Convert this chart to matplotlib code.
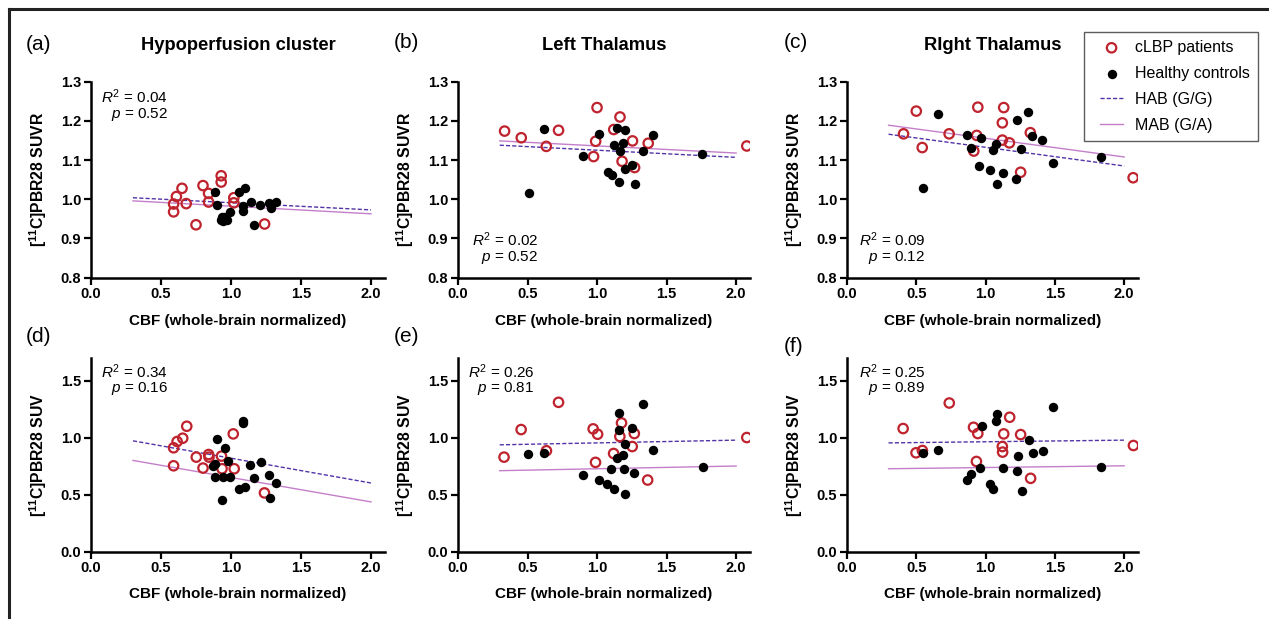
"""
CBF vs [11C]PBR28 uptake scatter panels (cLBP patients vs healthy controls)
with per-genotype regression lines.
"""
import matplotlib
matplotlib.use("Agg")
import matplotlib.pyplot as plt
from matplotlib.lines import Line2D
from matplotlib.collections import PathCollection
from matplotlib.legend_handler import HandlerLine2D, HandlerPathCollection
from matplotlib.ticker import FormatStrFormatter

plt.rcParams["font.family"] = ["Liberation Sans", "DejaVu Sans"]
plt.rcParams["mathtext.fontset"] = "custom"
plt.rcParams["mathtext.rm"] = "Liberation Sans"
plt.rcParams["mathtext.it"] = "Liberation Sans:italic"
plt.rcParams["mathtext.bf"] = "Liberation Sans:bold"

# ---------------------------------------------------------------------------
# Data
# ---------------------------------------------------------------------------

# (a) Hypoperfusion cluster, SUVR
a_pat_x = [0.59, 0.59, 0.61, 0.65, 0.68, 0.75, 0.80, 0.84, 0.84, 0.93, 0.93, 1.02, 1.02, 1.24]
a_pat_y = [0.988, 0.968, 1.007, 1.028, 0.989, 0.935, 1.035, 1.015, 0.993, 1.060, 1.044, 1.004, 0.991, 0.937]
a_hc_x = [0.886, 0.897, 0.933, 0.94, 0.95, 0.97, 0.993, 1.06, 1.10, 1.083, 1.083, 1.14, 1.207,
          1.165, 1.274, 1.283, 1.32, 0.93]
a_hc_y = [1.019, 0.985, 0.956, 0.945, 0.955, 0.947, 0.968, 1.019, 1.030, 0.983, 0.971, 0.994, 0.985,
          0.934, 0.990, 0.977, 0.994, 0.948]

# (b) Left Thalamus, SUVR
b_pat_x = [0.335, 0.455, 0.635, 0.723, 0.975, 0.99, 1.0, 1.12, 1.165, 1.18, 1.255, 1.27, 1.368, 2.077]
b_pat_y = [1.174, 1.157, 1.135, 1.176, 1.109, 1.148, 1.234, 1.178, 1.210, 1.097, 1.149, 1.081, 1.143, 1.136]
b_hc_x = [0.508, 0.62, 0.898, 1.013, 1.078, 1.104, 1.12, 1.147, 1.162, 1.16, 1.186, 1.202, 1.2,
          1.248, 1.27, 1.332, 1.404, 1.758]
b_hc_y = [1.016, 1.179, 1.110, 1.166, 1.069, 1.061, 1.138, 1.183, 1.124, 1.045, 1.144, 1.178, 1.077,
          1.088, 1.038, 1.123, 1.164, 1.116]

# (c) Right Thalamus, SUVR
c_pat_x = [0.408, 0.50, 0.543, 0.737, 0.915, 0.936, 0.944, 1.121, 1.131, 1.121, 1.172, 1.253, 1.323, 2.065]
c_pat_y = [1.167, 1.225, 1.132, 1.167, 1.123, 1.163, 1.235, 1.195, 1.234, 1.151, 1.144, 1.069, 1.170, 1.055]
c_hc_x = [0.55, 0.655, 0.864, 0.893, 0.97, 0.956, 1.035, 1.052, 1.076, 1.08, 1.126, 1.222, 1.229,
          1.258, 1.309, 1.337, 1.407, 1.484, 1.83]
c_hc_y = [1.029, 1.218, 1.163, 1.130, 1.157, 1.086, 1.074, 1.126, 1.141, 1.038, 1.068, 1.053, 1.202,
          1.128, 1.222, 1.162, 1.152, 1.092, 1.109]

# (d) Hypoperfusion cluster, SUV
d_pat_x = [0.59, 0.59, 0.615, 0.655, 0.684, 0.752, 0.80, 0.84, 0.843, 0.932, 0.936, 1.016, 1.023, 1.239]
d_pat_y = [0.912, 0.754, 0.967, 0.996, 1.101, 0.830, 0.734, 0.853, 0.830, 0.839, 0.728, 1.034, 0.728, 0.516]
d_hc_x = [0.87, 0.884, 0.90, 0.888, 0.96, 0.94, 0.975, 0.994, 0.936, 1.056, 1.10, 1.085, 1.085,
          1.138, 1.167, 1.212, 1.27, 1.282, 1.32]
d_hc_y = [0.752, 0.766, 0.987, 0.655, 0.912, 0.655, 0.800, 0.652, 0.451, 0.553, 0.568, 1.150, 1.130,
          0.760, 0.650, 0.789, 0.673, 0.475, 0.600]

# (e) Left Thalamus, SUV
e_pat_x = [0.331, 0.454, 0.636, 0.723, 0.972, 0.989, 1.004, 1.119, 1.164, 1.176, 1.253, 1.268, 1.364, 2.077]
e_pat_y = [0.830, 1.072, 0.886, 1.311, 1.078, 0.784, 1.031, 0.862, 1.011, 1.130, 0.923, 1.037, 0.629, 1.002]
e_hc_x = [0.504, 0.615, 0.896, 1.011, 1.073, 1.121, 1.102, 1.145, 1.155, 1.157, 1.184, 1.198, 1.196,
          1.203, 1.248, 1.268, 1.33, 1.402, 1.76]
e_hc_y = [0.856, 0.862, 0.670, 0.629, 0.591, 0.553, 0.728, 0.821, 1.215, 1.069, 0.850, 0.947, 0.728,
          0.504, 1.089, 0.693, 1.299, 0.891, 0.746]

# (f) Right Thalamus, SUV
f_pat_x = [0.405, 0.498, 0.544, 0.738, 0.913, 0.944, 0.934, 1.131, 1.121, 1.123, 1.174, 1.253, 1.325, 2.067]
f_pat_y = [1.081, 0.868, 0.888, 1.305, 1.092, 1.037, 0.792, 1.034, 0.923, 0.874, 1.180, 1.028, 0.644, 0.932]
f_hc_x = [0.551, 0.654, 0.867, 0.893, 0.972, 0.958, 1.035, 1.054, 1.083, 1.078, 1.128, 1.224, 1.231,
          1.26, 1.31, 1.339, 1.411, 1.485, 1.832]
f_hc_y = [0.865, 0.891, 0.626, 0.679, 1.101, 0.737, 0.594, 0.548, 1.209, 1.145, 0.731, 0.705, 0.836,
          0.530, 0.982, 0.862, 0.883, 1.267, 0.743]

# regression lines, evaluated at x = 0.3 and x = 2.0
fit_x = [0.3, 2.0]
hab_fit = [[1.004, 0.973], [1.138, 1.107], [1.166, 1.085],
           [0.973, 0.603], [0.938, 0.979], [0.955, 0.979]]
mab_fit = [[0.996, 0.963], [1.149, 1.118], [1.189, 1.108],
           [0.801, 0.437], [0.711, 0.752], [0.728, 0.754]]

titles = ["Hypoperfusion cluster", "Left Thalamus", "RIght Thalamus"]
panel_tags = ["(a)", "(b)", "(c)", "(d)", "(e)", "(f)"]
r2_text = ["0.04", "0.02", "0.09", "0.34", "0.26", "0.25"]
p_text = ["0.52", "0.52", "0.12", "0.16", "0.81", "0.89"]
ylabels = [r"[$^{\mathbf{11}}$C]PBR28 SUVR", r"[$^{\mathbf{11}}$C]PBR28 SUV"]
xlabel = "CBF (whole-brain normalized)"
legend_labels = ["cLBP patients", "Healthy controls", "HAB (G/G)", "MAB (G/A)"]

panels = [
    (a_pat_x, a_pat_y, a_hc_x, a_hc_y),
    (b_pat_x, b_pat_y, b_hc_x, b_hc_y),
    (c_pat_x, c_pat_y, c_hc_x, c_hc_y),
    (d_pat_x, d_pat_y, d_hc_x, d_hc_y),
    (e_pat_x, e_pat_y, e_hc_x, e_hc_y),
    (f_pat_x, f_pat_y, f_hc_x, f_hc_y),
]

RED = "#BF232D"
HAB_COLOR = "#5233A8"
MAB_COLOR = "#C47FCB"

# ---------------------------------------------------------------------------
# Layout
# ---------------------------------------------------------------------------
W, H = 1269, 619
fig = plt.figure(figsize=(W / 100, H / 100), dpi=100)

lefts = [91, 458, 847]
widths = [294, 292, 291]
top_row = (277.7, 81.7)     # bottom, top in pixels from the top
bot_row = (551.7, 358.0)

axes = []
for row, (yb, yt) in enumerate([top_row, bot_row]):
    for col in range(3):
        ax = fig.add_axes([lefts[col] / W, 1 - yb / H, widths[col] / W, (yb - yt) / H])
        axes.append(ax)

# R^2 / p annotation position (data coords, right aligned)
annot_pos = [(0.55, 1.262, 1.216), (0.58, 0.897, 0.852), (0.567, 0.897, 0.852),
             (0.55, 1.58, 1.43), (0.55, 1.58, 1.43), (0.565, 1.58, 1.43)]

for i, ax in enumerate(axes):
    px, py, hx, hy = panels[i]
    ax.scatter(px, py, s=46, facecolors="none", edgecolors=RED, linewidths=1.6,
               zorder=3, label=legend_labels[0])
    ax.scatter(hx, hy, s=46, color="black", linewidths=0, zorder=3,
               label=legend_labels[1])
    ax.plot(fit_x, hab_fit[i], color=HAB_COLOR, lw=1.0, dashes=(3, 1.5),
            zorder=2, label=legend_labels[2])
    ax.plot(fit_x, mab_fit[i], color=MAB_COLOR, lw=1.0, zorder=2,
            label=legend_labels[3])

    ax.set_xlim(0, 2.1)
    ax.set_xticks([0.0, 0.5, 1.0, 1.5, 2.0])
    if i < 3:
        ax.set_ylim(0.8, 1.3)
        ax.set_yticks([0.8, 0.9, 1.0, 1.1, 1.2, 1.3])
    else:
        ax.set_ylim(0.0, 1.7)
        ax.set_yticks([0.0, 0.5, 1.0, 1.5])
    ax.xaxis.set_major_formatter(FormatStrFormatter("%.1f"))
    ax.yaxis.set_major_formatter(FormatStrFormatter("%.1f"))

    for side in ("top", "right"):
        ax.spines[side].set_visible(False)
    for side in ("left", "bottom"):
        ax.spines[side].set_linewidth(1.8)
    ax.tick_params(direction="out", length=5, width=1.6, labelsize=10.5, pad=2)
    for lab in ax.get_xticklabels() + ax.get_yticklabels():
        lab.set_fontweight("bold")

    ax.set_xlabel(xlabel, fontsize=11, fontweight="bold", va="center")
    ax.xaxis.set_label_coords(0.5, -0.22)
    ax.set_ylabel(ylabels[i // 3], fontsize=11.3, fontweight="bold", va="center")
    ax.yaxis.set_label_coords(-0.18, 0.5)

    xa, y1, y2 = annot_pos[i]
    ax.text(xa, y1, r"$\mathit{R}^2$" + " = " + r2_text[i], ha="right", va="center",
            fontsize=11)
    ax.text(xa, y2, r"$\mathit{p}$" + " = " + p_text[i], ha="right", va="center",
            fontsize=11)

# titles and panel tags
for col in range(3):
    cx = (lefts[col] + widths[col] / 2) / W
    fig.text(cx, 1 - 45 / H, titles[col], ha="center", va="center",
             fontsize=13.2, fontweight="bold")

tag_x = [26, 394, 784]
tag_y = [44, 43, 42, 337, 337, 346]
for i, tag in enumerate(panel_tags):
    fig.text(tag_x[i % 3] / W, 1 - tag_y[i] / H, tag, ha="left", va="center",
             fontsize=15)

# legend
handles, labels = axes[0].get_legend_handles_labels()
leg = fig.legend(handles, labels, loc="upper left",
                 bbox_to_anchor=(1084 / W, 1 - 32 / H), fontsize=11.5,
                 frameon=True, fancybox=False, edgecolor="#333333",
                 handlelength=1.95, handletextpad=0.75, labelspacing=0.68,
                 borderpad=0.5, borderaxespad=0,
                 handler_map={Line2D: HandlerLine2D(xpad=0.5),
                              PathCollection: HandlerPathCollection(xpad=0.5)})
leg.get_frame().set_linewidth(1.0)

# outer frame (top and left edges)
fig.add_artist(Line2D([8.5 / W, 1.0], [1 - 9 / H, 1 - 9 / H], color="#222222",
                      lw=2.2, transform=fig.transFigure))
fig.add_artist(Line2D([8.5 / W, 8.5 / W], [0.0, 1 - 9 / H], color="#222222",
                      lw=2.2, transform=fig.transFigure))

fig.savefig("out.png", dpi=100)
